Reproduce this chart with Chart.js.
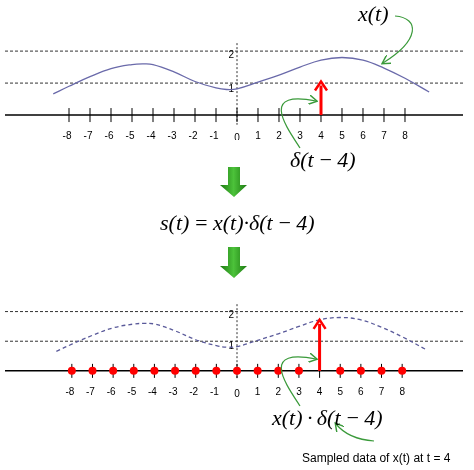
<!DOCTYPE html>
<html><head><meta charset="utf-8">
<script src="https://cdn.jsdelivr.net/npm/chart.js@4"></script>
<style>
body{margin:0;background:#fff;width:474px;height:470px;position:relative;overflow:hidden}
.c{position:absolute;left:0;width:474px}
.m{position:absolute;font-family:"Liberation Serif",serif;font-style:italic;font-size:22px;color:#000;white-space:nowrap}
svg{position:absolute;left:0;top:0}
</style></head><body>
<div class="c" style="top:30px;height:110px"><canvas id="c1"></canvas></div>
<div class="c" style="top:288px;height:110px"><canvas id="c2"></canvas></div>
<svg width="474" height="470">
<defs><marker id="ga" markerWidth="8" markerHeight="8" refX="6" refY="4" orient="auto"><path d="M0,0 L7,4 L0,8" fill="none" stroke="#3a9a3a" stroke-width="1.2"/></marker>
<linearGradient id="gg" x1="0" x2="1"><stop offset="0" stop-color="#1d7a12"/><stop offset="0.5" stop-color="#4cc23a"/><stop offset="1" stop-color="#1d7a12"/></linearGradient></defs>
<path d="M228,167 L240,167 L240,185 L247,185 L234,197 L220,185 L228,185 Z" fill="url(#gg)"/>
<path d="M228,247 L240,247 L240,266 L247,266 L234,278 L220,266 L228,266 Z" fill="url(#gg)"/>
<g fill="none" stroke="#3a9a3a" stroke-width="1.2" marker-end="url(#ga)">
<path d="M395,16 C420,18 420,40 383,63"/>
<path d="M300,148 C285,125 260,90 316,101"/>
<path d="M300,406 C285,383 260,348 316,359"/>
<path d="M374,441 C360,440 345,435 336,424"/>
</g>
</svg>
<div class="m" style="left:358px;top:1px">x(t)</div>
<div class="m" style="left:290px;top:147px">δ(t&#8201;−&#8201;4)</div>
<div class="m" style="left:160px;top:210px">s(t)&#8201;=&#8201;x(t)·δ(t&#8201;−&#8201;4)</div>
<div class="m" style="left:272px;top:405px">x(t)&#8201;·&#8201;δ(t&#8201;−&#8201;4)</div>
<div style="position:absolute;left:302px;top:451px;font-family:'Liberation Sans',Arial;font-size:12px">Sampled data of x(t) at t = 4</div>
<script>
const tickLabels=[-8,-7,-6,-5,-4,-3,-2,-1,0,1,2,3,4,5,6,7,8];
const curveT=[-8.75,-8,-7,-6,-5,-4.5,-4,-3,-2,-1,-0.5,0,1,2,3,4,5,6,7,8,9.15];
const curveX=[0.66,0.9,1.2,1.45,1.58,1.6,1.58,1.35,1.05,0.85,0.8,0.82,1.03,1.25,1.5,1.72,1.8,1.72,1.47,1.15,0.72];
const impulseTop=1.05, impulseBottom=1.72, impulseAt=4;
const sampleT=[-8,-7,-6,-5,-4,-3,-2,-1,0,1,2,3,5,6,7,8];
const refLines=[1,2];

const deco={id:'deco',
 beforeDatasetsDraw(ch,a,o){const x=ch.scales.x,y=ch.scales.y,c=ch.ctx;
  c.save();c.lineWidth=1;c.strokeStyle='#333';c.setLineDash([3,2]);
  refLines.forEach(v=>{c.beginPath();c.moveTo(5,y.getPixelForValue(v));c.lineTo(463,y.getPixelForValue(v));c.stroke();});
  c.setLineDash([2,2]);c.beginPath();c.moveTo(x.getPixelForValue(0),y.getPixelForValue(2.25));c.lineTo(x.getPixelForValue(0),y.getPixelForValue(-0.3));c.stroke();
  c.setLineDash([]);c.strokeStyle='#000';c.lineWidth=1.5;const y0=y.getPixelForValue(0);
  c.beginPath();c.moveTo(5,y0);c.lineTo(463,y0);c.stroke();
  c.lineWidth=1;tickLabels.forEach(t=>{const px=x.getPixelForValue(t);c.beginPath();c.moveTo(px,y0-7);c.lineTo(px,y0+7);c.stroke();});
  c.fillStyle='#000';c.font='10px "Liberation Sans",Arial';c.textAlign='center';c.textBaseline='middle';
  tickLabels.forEach(t=>{c.fillText(String(t),x.getPixelForValue(t)-(t<0?2:0),y0+(t===0?23:21));});
  c.textAlign='right';c.fillText('2',x.getPixelForValue(0)-3,y.getPixelForValue(1.87));c.fillText('1',x.getPixelForValue(0)-3,y.getPixelForValue(0.82));
  c.restore();},
 afterDatasetsDraw(ch,a,o){const x=ch.scales.x,y=ch.scales.y,c=ch.ctx;const h=o.h;
  const px=x.getPixelForValue(impulseAt),y0=y.getPixelForValue(0),yt=y.getPixelForValue(h);
  c.save();c.strokeStyle='#f00';c.fillStyle='#f00';c.lineWidth=3;c.beginPath();c.moveTo(px,y0);c.lineTo(px,yt+4);c.stroke();
  c.lineWidth=2.5;c.beginPath();c.moveTo(px-6,yt+9);c.lineTo(px,yt);c.lineTo(px+6,yt+9);c.stroke();c.restore();}
};
function mk(id,dashed,h,dots){
 const ds=[{data:curveT.map((t,i)=>({x:t,y:curveX[i]})),borderColor:dashed?'#5a5a9a':'#6a6aaa',borderWidth:1.3,borderDash:dashed?[4,3]:[],pointRadius:0,tension:0.4,showLine:true}];
 if(dots)ds.push({data:sampleT.map(t=>({x:t,y:0})),pointRadius:4,pointBackgroundColor:'#f00',pointBorderWidth:0,showLine:false});
 new Chart(document.getElementById(id),{type:'scatter',data:{datasets:ds},
  options:{responsive:true,maintainAspectRatio:false,animation:false,layout:{padding:0},
   plugins:{legend:{display:false},tooltip:{enabled:false},deco:{h}},
   scales:{x:{type:'linear',min:-11.286,max:11.286,display:false},y:{min:-0.78,max:2.66,display:false}}},
  plugins:[deco]});
}
mk('c1',false,impulseTop,false);
mk('c2',true,impulseBottom,true);
</script></body></html>
